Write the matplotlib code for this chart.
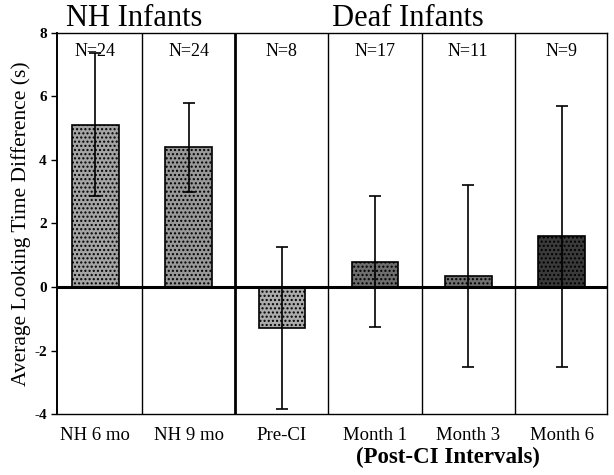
import matplotlib.pyplot as plt
import numpy as np

# dane
groups = ['NH 6 mo', 'NH 9 mo', 'Pre-CI', 'Month 1', 'Month 3', 'Month 6']
means = [5.1, 4.4, -1.3, 0.8, 0.35, 1.6]
errors = [2.25, 1.4, 2.55, 2.05, 2.85, 4.1]
n_labels = ['N=24', 'N=24', 'N=8', 'N=17', 'N=11', 'N=9']
colors = ['#a4a4a4', '#989898', '#ababab', '#6e6e6e', '#707070', '#3a3a3a']

plt.rcParams['font.family'] = ['Liberation Serif', 'DejaVu Serif']

fig = plt.figure(figsize=(6.14, 4.75), dpi=100)
ax = fig.add_axes([0.093, 0.128, 0.896, 0.803])

x = np.arange(len(groups))
ax.bar(x, means, width=0.5, color=colors, edgecolor='black', linewidth=1.2,
       hatch='....', zorder=2)
ax.errorbar(x, means, yerr=errors, fmt='none', ecolor='black', elinewidth=1.2,
            capsize=4, capthick=1.2, zorder=3)

# linie podziału
for i in range(len(groups) - 1):
    lw = 2.0 if i == 1 else 1.0
    ax.axvline(i + 0.5, color='black', linewidth=lw, zorder=1)
ax.axhline(0, color='black', linewidth=2.2, zorder=4)

for xi, lab in zip(x, n_labels):
    ax.text(xi, 7.4, lab, ha='center', va='center', fontsize=13)

ax.set_xlim(-0.41, 5.49)
ax.set_ylim(-4, 8)
ax.set_yticks([-4, -2, 0, 2, 4, 6, 8])
ax.set_yticklabels(['-4', '-2', '0', '2', '4', '6', '8'], fontsize=11,
                   fontweight='bold')
ax.set_xticks(x)
ax.set_xticklabels(groups, fontsize=13.5)
ax.tick_params(axis='x', length=0, pad=9)
ax.tick_params(axis='y', length=4, width=1, direction='out')
for s in ax.spines.values():
    s.set_linewidth(1.0)
ax.spines['left'].set_linewidth(1.4)

ax.set_ylabel('Average Looking Time Difference (s)', fontsize=15.5, labelpad=2)

fig.text(0.219, 0.962, 'NH Infants', ha='center', va='center', fontsize=22)
fig.text(0.665, 0.962, 'Deaf Infants', ha='center', va='center', fontsize=22)
fig.text(0.730, 0.036, '(Post-CI Intervals)', ha='center', va='center',
         fontsize=16.5, fontweight='bold')

fig.savefig('out.png', dpi=100)
